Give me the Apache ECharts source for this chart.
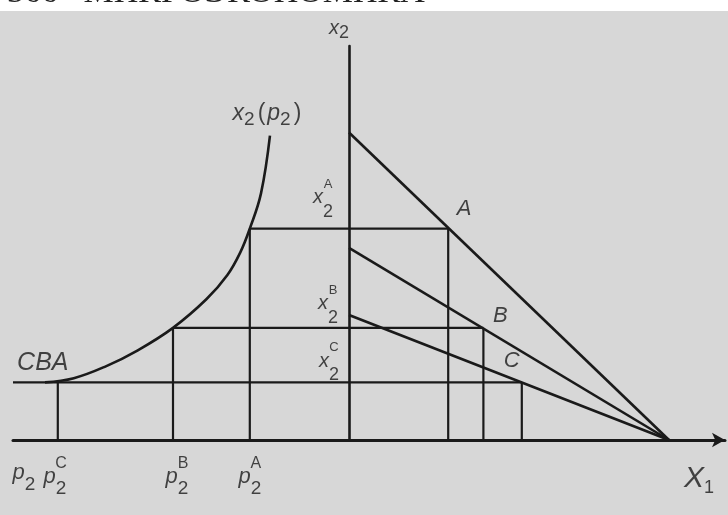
<!DOCTYPE html>
<html>
<head>
<meta charset="utf-8">
<script src="https://cdn.jsdelivr.net/npm/echarts@6/dist/echarts.min.js"></script>
<style>
  html, body { margin: 0; padding: 0; background: #ffffff; }
  #chart { width: 728px; height: 515px; }
</style>
</head>
<body>
<div id="chart"></div>
<script>
// Three consumer choices A, B, C at three prices of good 2
const bundleNames = ['A', 'B', 'C'];
const p2Prices = [3.1, 5.5, 9.1];          // p2^A, p2^B, p2^C (price axis runs leftwards)
const x2Intercepts = [9.6, 6.0, 3.9];      // budget line intercepts on the x2 axis
const x1Intercept = 10.0;                  // common intercept on the x1 axis
const x1Chosen = [3.1, 4.2, 5.4];          // chosen quantity of good 1
const x2Chosen = [6.6, 3.5, 1.8];          // chosen quantity of good 2: x2^A, x2^B, x2^C

// Demand curve x2(p2), from the highest price to the lowest
const curveP2 = [9.5, 8.6, 7.6, 6.6, 5.5, 4.45, 3.8, 3.4, 3.1, 2.75, 2.47];
const curveX2 = [1.8, 1.93, 2.3, 2.8, 3.5, 4.4, 5.15, 5.85, 6.6, 7.7, 9.5];

// Axis extents: left of zero is the p2 axis, right of zero is the x1 axis
const X_MIN = -10.5, X_MAX = 11.75, Y_MAX = 12.3;

const ink = '#1a1a1a';
const fam = '"Liberation Sans", Arial, sans-serif';

// Rich-text styles: base letter, lowered index, raised index, and an invisible spacer
function richSet(base, sub, sup, drop) {
  return {
    base: { fontSize: base, fontStyle: 'italic', fontFamily: fam, color: ink, lineHeight: 12, verticalAlign: 'top' },
    gh:   { fontSize: base, fontStyle: 'italic', fontFamily: fam, color: 'rgba(0,0,0,0)', lineHeight: 10, verticalAlign: 'top' },
    sub:  { fontSize: sub, fontFamily: fam, color: ink, lineHeight: sub, padding: [drop, 0, 0, 0], verticalAlign: 'top' },
    sup:  { fontSize: sup, fontFamily: fam, color: ink, lineHeight: 10, verticalAlign: 'top' },
    par:  { fontSize: base, fontFamily: fam, color: ink, lineHeight: 12, padding: [0, 2, 0, 3], verticalAlign: 'top' },
    big:  { fontSize: 30, fontStyle: 'italic', fontFamily: fam, color: ink, lineHeight: 22, verticalAlign: 'top' },
    pt:   { fontSize: base, fontStyle: 'italic', fontFamily: fam, color: ink, lineHeight: base }
  };
}

function stacked(letter, sym) {
  return '{gh|' + letter + '}{sup|' + sym + '}\n{base|' + letter + '}{sub|2}';
}

function seg(points, width) {
  return {
    type: 'line', data: points, symbol: 'none', silent: true,
    lineStyle: { color: ink, width: width }, z: 3
  };
}

const series = [];

// Budget lines pivoting around the x1 intercept
x2Intercepts.forEach(function (h) {
  series.push(seg([[0, h], [x1Intercept, 0]], 2.6));
});

// Horizontal guides at the chosen x2 levels; the lowest one runs to the end of the price axis
bundleNames.forEach(function (n, i) {
  const start = i === bundleNames.length - 1 ? X_MIN : -p2Prices[i];
  series.push(seg([[start, x2Chosen[i]], [x1Chosen[i], x2Chosen[i]]], 2.2));
  // drop lines to the price axis and to the x1 axis
  series.push(seg([[-p2Prices[i], 0], [-p2Prices[i], x2Chosen[i]]], 2.2));
  series.push(seg([[x1Chosen[i], 0], [x1Chosen[i], x2Chosen[i]]], 2.2));
});

// Demand curve x2(p2)
series.push({
  type: 'line', silent: true, symbol: 'none', smooth: 0.4,
  data: curveP2.map(function (p, i) { return [-p, curveX2[i]]; }),
  lineStyle: { color: ink, width: 2.6 }, z: 3
});

// Text labels anchored to data points
const labels = [];
function addLabel(at, text, rich, offset) {
  labels.push({
    value: at,
    label: {
      show: true, position: 'inside', align: 'center', verticalAlign: 'middle',
      formatter: function () { return text; }, rich: rich, offset: offset
    }
  });
}

const rX = richSet(20, 18, 13, 15);
const rP = richSet(22, 19, 16, 14);

addLabel([0, Y_MAX], '{base|x}{sub|2}', richSet(20, 18, 13, 6), [-10, -19]);
addLabel([-curveP2[curveP2.length - 1], curveX2[curveX2.length - 1]],
  '{base|x}{sub|2}{par|(}{base|p}{sub|2}{par|)}', richSet(23, 19, 13, 8), [-2, -24]);

const x2LabelOffsets = [[-26, -37], [-21, -30], [-20, -27]];
const pointOffsets = [[16, -20], [17, -12], [-10, -21]];
const p2LabelOffsets = [[0, 30], [4, 30], [-3, 30]];
bundleNames.forEach(function (n, i) {
  addLabel([0, x2Chosen[i]], stacked('x', n), rX, x2LabelOffsets[i]);
  addLabel([x1Chosen[i], x2Chosen[i]], '{pt|' + n + '}', richSet(22, 18, 13, 9), pointOffsets[i]);
  addLabel([-p2Prices[i], 0], stacked('p', n), rP, p2LabelOffsets[i]);
});

addLabel([-p2Prices[2], x2Chosen[2]], '{pt|' + bundleNames.slice().reverse().join('') + '}', richSet(25, 18, 13, 9), [-15, -19]);
addLabel([X_MIN, 0], '{base|p}{sub|2}', richSet(22, 19, 15, 14), [11, 31]);
addLabel([X_MAX, 0], '{big|X}{sub|1}', richSet(20, 18, 13, 15), [-26, 35]);

series.push({
  type: 'scatter', data: labels, symbolSize: 1, silent: true,
  itemStyle: { color: 'rgba(0,0,0,0)' }, z: 5
});

const chart = echarts.init(document.getElementById('chart'), null, { renderer: 'canvas' });
chart.setOption({
  animation: false,
  backgroundColor: '#ffffff',
  graphic: [{
    type: 'rect', z: -10, silent: true,
    shape: { x: 0, y: 11, width: 728, height: 504 },
    style: { fill: '#d7d7d7' }
  }, {
    // running page header, cut by the top edge
    type: 'text', z: 10, silent: true, x: 7, y: 10.5,
    style: {
      text: '366   МИКРОЭКОНОМИКА', fill: '#222',
      font: '34px "Liberation Serif", serif',
      verticalAlign: 'bottom', align: 'left'
    }
  }],
  grid: { left: 13, right: 3, top: 46, bottom: 75 },
  xAxis: {
    type: 'value', min: X_MIN, max: X_MAX,
    axisLine: { show: true, onZero: true, symbol: ['none', 'arrow'], symbolSize: [11, 13], lineStyle: { color: ink, width: 3 } },
    axisTick: { show: false }, axisLabel: { show: false }, splitLine: { show: false }
  },
  yAxis: {
    type: 'value', min: 0, max: Y_MAX,
    axisLine: { show: true, onZero: true, lineStyle: { color: ink, width: 2.6 } },
    axisTick: { show: false }, axisLabel: { show: false }, splitLine: { show: false }
  },
  series: series
});
</script>
</body>
</html>
